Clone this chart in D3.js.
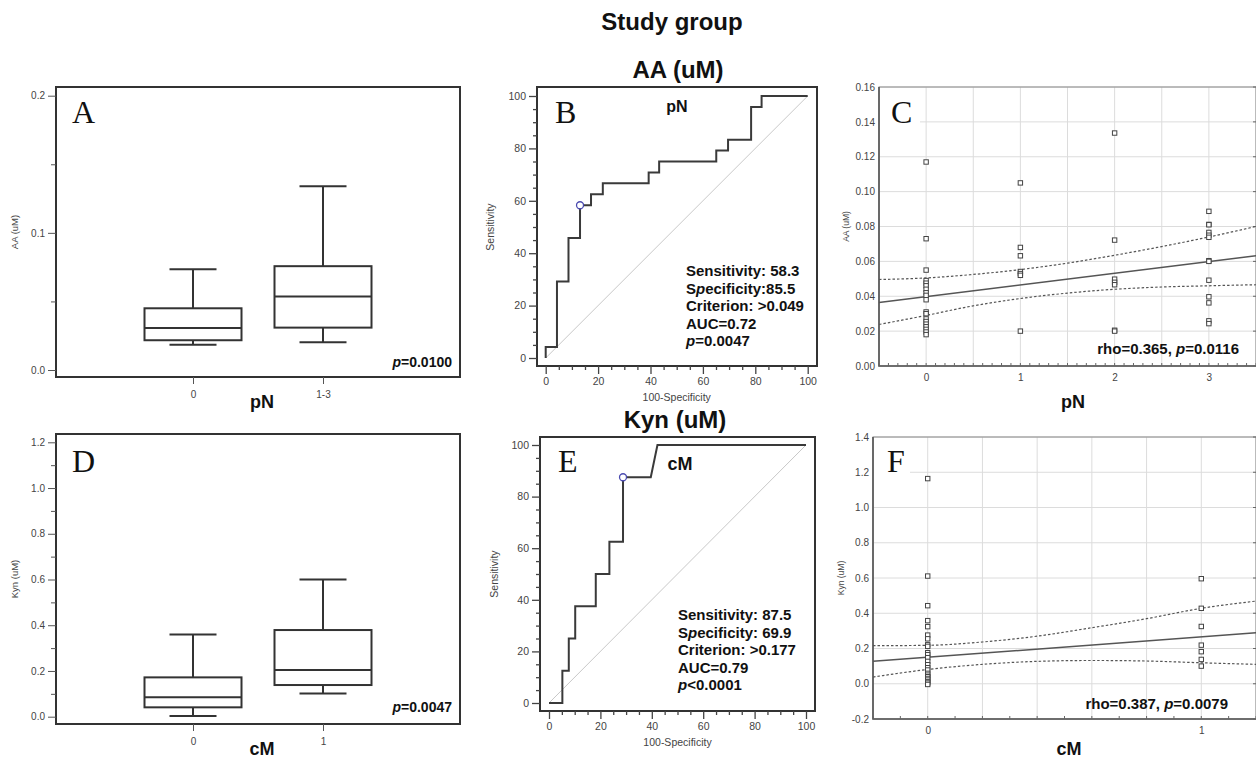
<!DOCTYPE html>
<html>
<head>
<meta charset="utf-8">
<script src="https://cdn.jsdelivr.net/npm/d3@7"></script>
<style>
  body { margin: 0; background: #fff; }
  text { font-family: "Liberation Sans", Arial, sans-serif; }
  .tick text { fill: #444; }
</style>
</head>
<body>
<script>
// ---- data ----
// A: AA (uM) by pN group
var aCats = ["0", "1-3"]
var aMin = [0.0185, 0.0202]
var aQ1 = [0.0217, 0.0309]
var aMed = [0.0307, 0.0535]
var aQ3 = [0.045, 0.0757]
var aMax = [0.0735, 0.134]
var aTicks = [0, 0.1, 0.2]
var aMinor = [0.05, 0.15]

// D: Kyn (uM) by cM group
var dCats = ["0", "1"]
var dMin = [0.003, 0.102]
var dQ1 = [0.041, 0.1385]
var dMed = [0.085, 0.204]
var dQ3 = [0.172, 0.379]
var dMax = [0.359, 0.600]
var dTicks = [0, 0.2, 0.4, 0.6, 0.8, 1.0, 1.2]
var dMinor = [0.1, 0.3, 0.5, 0.7, 0.9, 1.1]

// B: ROC for AA, pN
var bFpr = [0, 0, 4.3, 4.3, 8.7, 8.7, 13.1, 13.1, 17.3, 17.3, 21.8, 21.8, 39.3, 39.3, 43.3, 43.3, 65.1, 65.1, 69.6, 69.6, 78.4, 78.4, 82.4, 82.4, 100]
var bSens = [0, 4.2, 4.2, 29.2, 29.2, 45.8, 45.8, 58.3, 58.3, 62.5, 62.5, 66.7, 66.7, 70.8, 70.8, 75, 75, 79.2, 79.2, 83.3, 83.3, 95.8, 95.8, 100, 100]
var bCut = [13.1, 58.3]
var bStats = ["Sensitivity: 58.3", "Specificity:85.5", "Criterion: >0.049", "AUC=0.72", "p=0.0047"]

// E: ROC for Kyn, cM
var eFpr = [0, 5.2, 5.2, 7.7, 7.7, 10.2, 10.2, 18.2, 18.2, 23.5, 23.5, 28.8, 28.8, 39.6, 42.2, 100]
var eSens = [0, 0, 12.5, 12.5, 25, 25, 37.5, 37.5, 50, 50, 62.5, 62.5, 87.5, 87.5, 100, 100]
var eCut = [28.8, 87.5]
var eStats = ["Sensitivity: 87.5", "Specificity: 69.9", "Criterion: >0.177", "AUC=0.79", "p<0.0001"]

var rocTicks = [0, 20, 40, 60, 80, 100]
var rocMinor = [5, 10, 15, 25, 30, 35, 45, 50, 55, 65, 70, 75, 85, 90, 95]

// C: AA vs pN scatter
var cX = [0, 0, 0, 0, 0, 0, 0, 0, 0, 0, 0, 0, 0, 0, 0, 0, 0, 0, 0,
          1, 1, 1, 1, 1, 1, 1,
          2, 2, 2, 2, 2, 2, 2,
          3, 3, 3, 3, 3, 3, 3, 3, 3, 3, 3, 3, 3]
var cY = [0.117, 0.073, 0.055, 0.049, 0.0475, 0.046, 0.044, 0.042, 0.0405, 0.038, 0.031, 0.030, 0.027, 0.0255, 0.024, 0.0225, 0.021, 0.0195, 0.018,
          0.105, 0.068, 0.0632, 0.0542, 0.053, 0.052, 0.020,
          0.1336, 0.0722, 0.0498, 0.048, 0.0466, 0.0205, 0.020,
          0.0887, 0.0812, 0.081, 0.0766, 0.075, 0.0738, 0.0604, 0.060, 0.0492, 0.0397, 0.0362, 0.0259, 0.0243]
var cFitX = [-0.5, 3.5]
var cFitY = [0.0364, 0.0633]
var cBandX = [-0.5, 0, 0.5, 1, 1.5, 2, 2.5, 3, 3.5]
var cUpper = [0.0496, 0.0505, 0.0525, 0.0553, 0.059, 0.0635, 0.0685, 0.074, 0.080]
var cLower = [0.0238, 0.029, 0.0345, 0.0387, 0.0418, 0.044, 0.0453, 0.046, 0.0466]
var cXTicks = [0, 1, 2, 3]
var cYTicks = [0, 0.02, 0.04, 0.06, 0.08, 0.10, 0.12, 0.14, 0.16]

// F: Kyn vs cM scatter
var fX = [0, 0, 0, 0, 0, 0, 0, 0, 0, 0, 0, 0, 0, 0, 0, 0, 0, 0, 0, 0, 0, 0, 0, 0,
          1, 1, 1, 1, 1, 1, 1]
var fY = [1.164, 0.611, 0.443, 0.358, 0.324, 0.276, 0.255, 0.221, 0.212, 0.176, 0.165, 0.148, 0.127, 0.108, 0.091, 0.078, 0.059, 0.049, 0.040, 0.030, 0.021, 0.011, 0.004, -0.004,
          0.596, 0.428, 0.325, 0.219, 0.182, 0.138, 0.100]
var fFitX = [-0.2, 1.2]
var fFitY = [0.127, 0.29]
var fBandX = [-0.2, 0, 0.2, 0.4, 0.6, 0.8, 1.0, 1.2]
var fUpper = [0.216, 0.218, 0.237, 0.27, 0.318, 0.369, 0.428, 0.469]
var fLower = [0.038, 0.081, 0.11, 0.127, 0.132, 0.129, 0.119, 0.11]
var fXTicks = [0, 1]
var fYTicks = [-0.2, 0, 0.2, 0.4, 0.6, 0.8, 1.0, 1.2, 1.4]

// ---- drawing ----
var svg = d3.select("body").append("svg")
  .attr("width", 1256).attr("height", 758)

var ink = "#333"

function label(g, txt, x, y, size, opts) {
  opts = opts || {}
  var t = g.append("text").attr("x", x).attr("y", y)
    .attr("font-size", size)
    .attr("fill", opts.fill || "#111")
    .attr("font-weight", opts.bold ? "bold" : "normal")
    .attr("text-anchor", opts.anchor || "start")
  if (opts.serif) t.style("font-family", "'Liberation Serif', 'Times New Roman', serif")
  if (opts.rotate) t.attr("transform", "rotate(-90," + x + "," + y + ")")
  t.text(txt)
  return t
}

// text like "p=0.0047" with italic p
function pLabel(g, txt, x, y, size, anchor) {
  var t = g.append("text").attr("x", x).attr("y", y)
    .attr("font-size", size).attr("font-weight", "bold").attr("fill", "#111")
    .attr("text-anchor", anchor || "start")
  var i = txt.indexOf("p")
  if (i < 0) { t.text(txt); return }
  if (i > 0) t.append("tspan").text(txt.slice(0, i))
  t.append("tspan").attr("font-style", "italic").text("p")
  t.append("tspan").text(txt.slice(i + 1))
}

function boxPanel(o) {
  var g = svg.append("g")
  var y = d3.scaleLinear().domain(o.yDom).range(o.yRange)
  var x = d3.scalePoint().domain(o.cats).range(o.xRange)

  g.append("rect").attr("x", o.fx0).attr("y", o.fy0)
    .attr("width", o.fx1 - o.fx0).attr("height", o.fy1 - o.fy0)
    .attr("fill", "none").attr("stroke", ink).attr("stroke-width", 2)

  var ya = g.append("g").attr("transform", "translate(" + o.fx0 + ",0)")
    .call(d3.axisLeft(y).tickValues(o.ticks).tickSize(8).tickPadding(3).tickFormat(d3.format(".1f")))
  ya.select(".domain").remove()
  ya.selectAll("text").attr("font-size", 10).style("font-family", "'Liberation Sans', Arial, sans-serif")
  ya.selectAll("line").attr("stroke", "#555")
  var ym = g.append("g").attr("transform", "translate(" + o.fx0 + ",0)")
    .call(d3.axisLeft(y).tickValues(o.minor).tickSize(5).tickFormat(""))
  ym.select(".domain").remove()
  ym.selectAll("line").attr("stroke", "#555")

  var xa = g.append("g").attr("transform", "translate(0," + o.fy1 + ")")
    .call(d3.axisBottom(x).tickSize(7).tickPadding(7))
  xa.select(".domain").remove()
  xa.selectAll("text").attr("font-size", 10).style("font-family", "'Liberation Sans', Arial, sans-serif")
  xa.selectAll("line").attr("stroke", "#555")

  var bw = 97, cw = 47
  o.cats.forEach(function(c, i) {
    var cx = x(c)
    g.append("line").attr("x1", cx).attr("x2", cx).attr("y1", y(o.q3[i])).attr("y2", y(o.max[i]))
      .attr("stroke", ink).attr("stroke-width", 2)
    g.append("line").attr("x1", cx).attr("x2", cx).attr("y1", y(o.q1[i])).attr("y2", y(o.min[i]))
      .attr("stroke", ink).attr("stroke-width", 2)
    g.append("line").attr("x1", cx - cw / 2).attr("x2", cx + cw / 2).attr("y1", y(o.max[i])).attr("y2", y(o.max[i]))
      .attr("stroke", ink).attr("stroke-width", 2)
    g.append("line").attr("x1", cx - cw / 2).attr("x2", cx + cw / 2).attr("y1", y(o.min[i])).attr("y2", y(o.min[i]))
      .attr("stroke", ink).attr("stroke-width", 2)
    g.append("rect").attr("x", cx - bw / 2).attr("y", y(o.q3[i]))
      .attr("width", bw).attr("height", y(o.q1[i]) - y(o.q3[i]))
      .attr("fill", "none").attr("stroke", ink).attr("stroke-width", 2)
    g.append("line").attr("x1", cx - bw / 2).attr("x2", cx + bw / 2).attr("y1", y(o.med[i])).attr("y2", y(o.med[i]))
      .attr("stroke", ink).attr("stroke-width", 2)
  })

  label(g, o.yLabel, 18, (o.fy0 + o.fy1) / 2, 9.5, { anchor: "middle", rotate: true, fill: "#444" })
  label(g, o.xTitle, 262, o.titleY, 18, { anchor: "middle", bold: true })
  label(g, o.letter, 72, o.letterY, 32, { serif: true })
  pLabel(g, o.p, 452, o.pY, 14, "end")
}

function rocPanel(o) {
  var g = svg.append("g")
  var x = d3.scaleLinear().domain([0, 100]).range(o.xRange)
  var y = d3.scaleLinear().domain([0, 100]).range(o.yRange)

  g.append("rect").attr("x", o.fx0).attr("y", o.fy0)
    .attr("width", o.fx1 - o.fx0).attr("height", o.fy1 - o.fy0)
    .attr("fill", "none").attr("stroke", ink).attr("stroke-width", 2)

  var ya = g.append("g").attr("transform", "translate(" + o.fx0 + ",0)")
    .call(d3.axisLeft(y).tickValues(rocTicks).tickSize(8).tickPadding(3))
  var ym = g.append("g").attr("transform", "translate(" + o.fx0 + ",0)")
    .call(d3.axisLeft(y).tickValues(rocMinor).tickSize(4).tickFormat(""))
  var xa = g.append("g").attr("transform", "translate(0," + o.fy1 + ")")
    .call(d3.axisBottom(x).tickValues(rocTicks).tickSize(8).tickPadding(4))
  var xm = g.append("g").attr("transform", "translate(0," + o.fy1 + ")")
    .call(d3.axisBottom(x).tickValues(rocMinor).tickSize(4).tickFormat(""))
  ;[ya, ym, xa, xm].forEach(function(a) {
    a.select(".domain").remove()
    a.selectAll("line").attr("stroke", "#444").attr("stroke-width", 1.3)
    a.selectAll("text").attr("font-size", 10.5).style("font-family", "'Liberation Sans', Arial, sans-serif")
  })

  g.append("line").attr("x1", x(0)).attr("y1", y(0)).attr("x2", x(100)).attr("y2", y(100))
    .attr("stroke", "#c8c8c8").attr("stroke-width", 1)

  var pts = o.fpr.map(function(d, i) { return [d, o.sens[i]] })
  g.append("path").datum(pts)
    .attr("d", d3.line().x(function(d) { return x(d[0]) }).y(function(d) { return y(d[1]) }))
    .attr("fill", "none").attr("stroke", "#3a3a3a").attr("stroke-width", 2)
  g.append("circle").attr("cx", x(o.cut[0])).attr("cy", y(o.cut[1])).attr("r", 3.5)
    .attr("fill", "#fff").attr("stroke", "#4b4bb0").attr("stroke-width", 1.3)

  label(g, o.yLabel, o.yLabelX, (o.yRange[0] + o.yRange[1]) / 2, 10.5, { anchor: "middle", rotate: true, fill: "#444" })
  label(g, "100-Specificity", (o.xRange[0] + o.xRange[1]) / 2, o.xLabelY, 10.5, { anchor: "middle", fill: "#444" })
  label(g, o.inner, o.innerX, o.innerY, o.innerSize, { anchor: "middle", bold: true })
  label(g, o.letter, o.fx0 + 18, o.letterY, 32, { serif: true })
  o.stats.forEach(function(s, i) {
    pLabel(g, s, o.statX, o.statY + i * 17.5, 15)
  })
  label(g, o.title, o.titleX, o.titleY, 24, { anchor: "middle", bold: true })
}

function scatterPanel(o) {
  var g = svg.append("g")
  var x = d3.scaleLinear().domain(o.xDom).range([o.fx0, o.fx1])
  var y = d3.scaleLinear().domain(o.yDom).range([o.fy1, o.fy0])

  // grid
  var gx = d3.range(o.xDom[0], o.xDom[1] + 1e-9, o.gridStep)
  gx.forEach(function(v) {
    g.append("line").attr("x1", x(v)).attr("x2", x(v)).attr("y1", o.fy0).attr("y2", o.fy1)
      .attr("stroke", "#dcdcdc").attr("stroke-width", 1)
  })
  o.yTicks.forEach(function(v) {
    g.append("line").attr("x1", o.fx0).attr("x2", o.fx1).attr("y1", y(v)).attr("y2", y(v))
      .attr("stroke", "#dcdcdc").attr("stroke-width", 1)
  })

  g.append("rect").attr("x", o.fx0).attr("y", o.fy0)
    .attr("width", o.fx1 - o.fx0).attr("height", o.fy1 - o.fy0)
    .attr("fill", "none").attr("stroke", "#888").attr("stroke-width", 1)
  g.append("path").attr("d", "M" + o.fx0 + "," + o.fy0 + "V" + o.fy1 + "H" + o.fx1)
    .attr("fill", "none").attr("stroke", "#555").attr("stroke-width", 1.6)

  // minor ticks inside along bottom
  d3.range(o.xDom[0], o.xDom[1] + 1e-9, o.minorStep).forEach(function(v) {
    g.append("line").attr("x1", x(v)).attr("x2", x(v)).attr("y1", o.fy1).attr("y2", o.fy1 - 3)
      .attr("stroke", "#666")
  })
  o.yTicks.forEach(function(v) {
    g.append("line").attr("x1", o.fx1).attr("x2", o.fx1 - 3).attr("y1", y(v)).attr("y2", y(v))
      .attr("stroke", "#666")
  })

  var ya = g.append("g").attr("transform", "translate(" + o.fx0 + ",0)")
    .call(d3.axisLeft(y).tickValues(o.yTicks).tickSize(0).tickPadding(4).tickFormat(d3.format(o.yFmt)))
  var xa = g.append("g").attr("transform", "translate(0," + o.fy1 + ")")
    .call(d3.axisBottom(x).tickValues(o.xTicks).tickSize(0).tickPadding(8).tickFormat(d3.format("d")))
  ;[ya, xa].forEach(function(a) {
    a.select(".domain").remove()
    a.selectAll("text").attr("font-size", 10).style("font-family", "'Liberation Sans', Arial, sans-serif")
  })
  ya.selectAll("text").text(function(d) { return d3.format(o.yFmt)(d).replace("−", "-") })

  // confidence band + fit
  var line = d3.line().curve(d3.curveMonotoneX)
    .x(function(d) { return x(d[0]) }).y(function(d) { return y(d[1]) })
  g.append("path").datum(o.bandX.map(function(d, i) { return [d, o.upper[i]] }))
    .attr("d", line).attr("fill", "none").attr("stroke", "#555").attr("stroke-width", 1.2)
    .attr("stroke-dasharray", "2.5,2")
  g.append("path").datum(o.bandX.map(function(d, i) { return [d, o.lower[i]] }))
    .attr("d", line).attr("fill", "none").attr("stroke", "#555").attr("stroke-width", 1.2)
    .attr("stroke-dasharray", "2.5,2")
  g.append("path").datum(o.fitX.map(function(d, i) { return [d, o.fitY[i]] }))
    .attr("d", line).attr("fill", "none").attr("stroke", "#555").attr("stroke-width", 1.5)

  g.selectAll("rect.pt").data(o.xs.map(function(d, i) { return [d, o.ys[i]] }))
    .enter().append("rect").attr("class", "pt")
    .attr("x", function(d) { return x(d[0]) - 2.2 }).attr("y", function(d) { return y(d[1]) - 2.2 })
    .attr("width", 4.4).attr("height", 4.4)
    .attr("fill", "#fff").attr("stroke", "#444").attr("stroke-width", 1)

  // letter with white patch over the grid
  g.append("rect").attr("x", o.fx0 + 1).attr("y", o.fy0 + 1).attr("width", o.patchW).attr("height", 36)
    .attr("fill", "#fff")
  label(g, o.letter, o.letterX, o.letterY, 32, { serif: true })

  label(g, o.yLabel, o.yLabelX, (o.fy0 + o.fy1) / 2, 8.5, { anchor: "middle", rotate: true, fill: "#444" })
  label(g, o.xTitle, o.xTitleX, o.xTitleY, 18, { anchor: "middle", bold: true })
  pLabel(g, o.rho, o.rhoX, o.rhoY, 15, "end")
}

label(svg, "Study group", 672, 30, 24, { anchor: "middle", bold: true })

boxPanel({
  cats: aCats, min: aMin, q1: aQ1, med: aMed, q3: aQ3, max: aMax,
  ticks: aTicks, minor: aMinor, yDom: [0, 0.2], yRange: [370, 95.7], xRange: [193, 323],
  fx0: 56, fx1: 460, fy0: 87, fy1: 377,
  yLabel: "AA (uM)", xTitle: "pN", titleY: 408, letter: "A", letterY: 123,
  p: "p=0.0100", pY: 367
})
boxPanel({
  cats: dCats, min: dMin, q1: dQ1, med: dMed, q3: dQ3, max: dMax,
  ticks: dTicks, minor: dMinor, yDom: [0, 1.2], yRange: [716.7, 442.3], xRange: [193, 323],
  fx0: 56, fx1: 460, fy0: 434, fy1: 724,
  yLabel: "Kyn (uM)", xTitle: "cM", titleY: 755, letter: "D", letterY: 472,
  p: "p=0.0047", pY: 712
})

rocPanel({
  fpr: bFpr, sens: bSens, cut: bCut, stats: bStats,
  xRange: [545.7, 807.7], yRange: [358, 96],
  fx0: 537, fx1: 817, fy0: 87, fy1: 366,
  yLabel: "Sensitivity", yLabelX: 494, xLabelY: 401,
  inner: "pN", innerX: 677, innerY: 112, innerSize: 16,
  letter: "B", letterY: 123, statX: 686, statY: 276,
  title: "AA (uM)", titleX: 678, titleY: 78
})
rocPanel({
  fpr: eFpr, sens: eSens, cut: eCut, stats: eStats,
  xRange: [549, 806], yRange: [703, 445],
  fx0: 540, fx1: 815, fy0: 437, fy1: 711,
  yLabel: "Sensitivity", yLabelX: 498, xLabelY: 746,
  inner: "cM", innerX: 680, innerY: 470, innerSize: 18,
  letter: "E", letterY: 472, statX: 678, statY: 620,
  title: "Kyn (uM)", titleX: 675, titleY: 428
})

scatterPanel({
  xs: cX, ys: cY, fitX: cFitX, fitY: cFitY, bandX: cBandX, upper: cUpper, lower: cLower,
  xDom: [-0.5, 3.5], yDom: [0, 0.16], xTicks: cXTicks, yTicks: cYTicks, yFmt: ".2f",
  gridStep: 0.5, minorStep: 0.1,
  fx0: 879, fx1: 1256, fy0: 87, fy1: 366,
  patchW: 40, letter: "C", letterX: 891, letterY: 123,
  yLabel: "AA (uM)", yLabelX: 849, xTitle: "pN", xTitleX: 1073, xTitleY: 408,
  rho: "rho=0.365, p=0.0116", rhoX: 1239, rhoY: 354
})
scatterPanel({
  xs: fX, ys: fY, fitX: fFitX, fitY: fFitY, bandX: fBandX, upper: fUpper, lower: fLower,
  xDom: [-0.2, 1.2], yDom: [-0.2, 1.4], xTicks: fXTicks, yTicks: fYTicks, yFmt: ".1f",
  gridStep: 0.2, minorStep: 0.1,
  fx0: 873, fx1: 1256, fy0: 437, fy1: 719,
  patchW: 36, letter: "F", letterX: 887, letterY: 472,
  yLabel: "Kyn (uM)", yLabelX: 844, xTitle: "cM", xTitleX: 1069, xTitleY: 755,
  rho: "rho=0.387, p=0.0079", rhoX: 1228, rhoY: 709
})
</script>
</body>
</html>
